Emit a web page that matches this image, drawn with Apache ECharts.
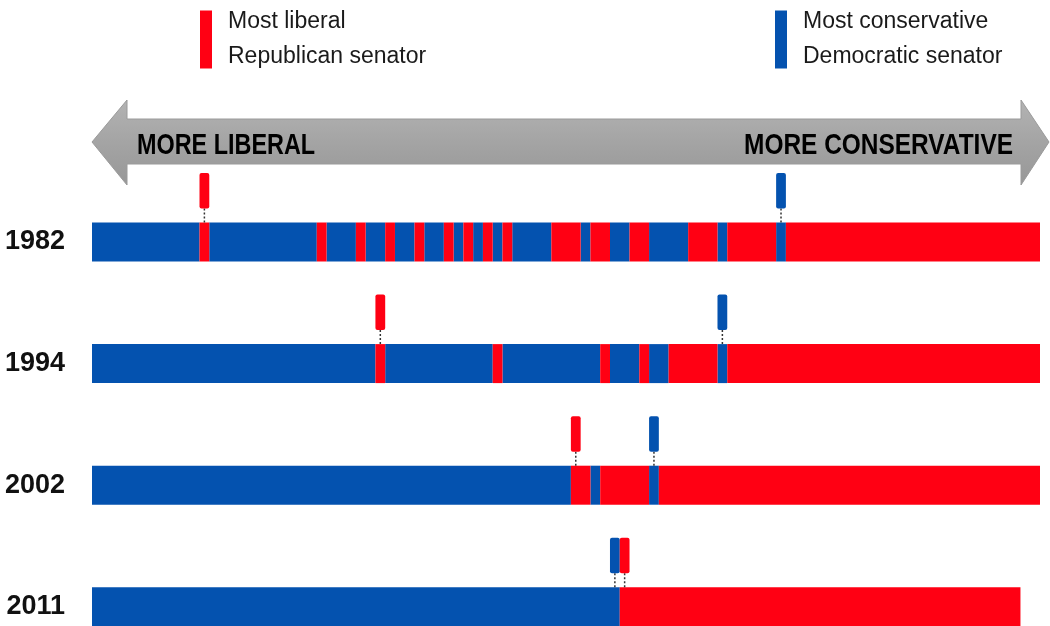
<!DOCTYPE html>
<html><head><meta charset="utf-8">
<script src="https://cdn.jsdelivr.net/npm/echarts@6/dist/echarts.min.js"></script>
<style>html,body{margin:0;padding:0;background:#fff}#c{width:1050px;height:626px}</style>
</head><body><div id="c"></div>
<script>
// Years (rows), top to bottom
const years = ['1982', '1994', '2002', '2011'];
// Senators ordered from most liberal to most conservative, as alternating run lengths.
// The first run of each row is Democratic (blue), then Republican (red), and so on.
const runs1982 = [11,1,11,1,3,1,2,1,2,1,2,1,1,1,1,1,1,1,4,3,1,2,2,2,4,3,1,5,1,26];
const runs1994 = [29,1,11,1,10,1,3,1,2,5,1,32];
const runs2002 = [49,2,1,5,1,39];
const runs2011 = [54,41];
// Position (rank) of highlighted senators in each year
const mostLiberalRepublican = [11, 29, 49, 54];
const mostConservativeDemocrat = [70, 64, 57, 53];
const rankMax = 97;
const directionLabels = ['MORE LIBERAL', 'MORE CONSERVATIVE'];
const legendNames = ['Most liberal\nRepublican senator', 'Most conservative\nDemocratic senator'];
const partyNames = ['Democrats', 'Republicans'];

const BLUE = '#0452AF', RED = '#FF0013';
const BOLDFONT = '"Liberation Sans", Arial, sans-serif';

const allRuns = [runs1982, runs1994, runs2002, runs2011];
const demSegs = [], repSegs = [];
allRuns.forEach((runs, yi) => {
  let pos = 0;
  runs.forEach((n, k) => {
    (k % 2 === 0 ? demSegs : repSegs).push([pos, yi, pos + n]);
    pos += n;
  });
});
const libRepData = mostLiberalRepublican.map((r, yi) => [r, yi]);
const consDemData = mostConservativeDemocrat.map((r, yi) => [r, yi]);

const BAR_H = 39;
function renderSeg(params, api) {
  const s = api.coord([api.value(0), api.value(1)]);
  const e = api.coord([api.value(2), api.value(1)]);
  return {
    type: 'rect',
    shape: { x: s[0], y: s[1] - BAR_H / 2, width: e[0] - s[0], height: BAR_H },
    style: { fill: api.visual('color') }
  };
}
function renderMarker(params, api) {
  const a = api.coord([api.value(0), api.value(1)]);
  const b = api.coord([api.value(0) + 1, api.value(1)]);
  const w = b[0] - a[0], cx = (a[0] + b[0]) / 2;
  const top = a[1] - 69, bottom = a[1] - 33.5, barTop = a[1] - BAR_H / 2;
  return {
    type: 'group',
    children: [
      { type: 'line', shape: { x1: cx, y1: bottom, x2: cx, y2: barTop + 1 },
        style: { stroke: '#333', lineWidth: 1.5, lineDash: [2, 2] } },
      { type: 'rect', shape: { x: a[0], y: top, width: w, height: bottom - top, r: 2 },
        style: { fill: api.visual('color') } }
    ]
  };
}

const chart = echarts.init(document.getElementById('c'), null, { renderer: 'canvas' });
const legendCommon = {
  top: 3, padding: 0, itemWidth: 12, itemHeight: 58, icon: 'rect', selectedMode: false,
  textStyle: { fontSize: 23, lineHeight: 35, color: '#1a1a1a', fontFamily: '"Liberation Sans", Arial, sans-serif', padding: [3, 0, 0, 11] }
};
chart.setOption({
  animation: false,
  backgroundColor: '#fff',
  grid: { left: 92, right: 10, top: 181.2, height: 486.4, containLabel: false, outerBoundsMode: 'none' },
  xAxis: { type: 'value', min: 0, max: rankMax, show: false },
  yAxis: {
    type: 'category', data: years, inverse: true,
    axisLine: { show: false }, axisTick: { show: false }, splitLine: { show: false },
    axisLabel: { margin: 27, fontSize: 27, fontWeight: 'bold', color: '#111', fontFamily: BOLDFONT }
  },
  legend: [
    Object.assign({ data: [legendNames[0]], left: 200 }, legendCommon),
    Object.assign({ data: [legendNames[1]], left: 775 }, legendCommon)
  ],
  graphic: [
    {
      type: 'polygon', z: 0,
      shape: { points: [[92,142],[127,100],[127,119],[1021,119],[1021,100],[1049,142],[1021,185],[1021,164],[127,164],[127,185]] },
      style: {
        fill: new echarts.graphic.LinearGradient(0, 0, 0, 1, [
          { offset: 0, color: '#b3b3b3' }, { offset: 0.5, color: '#a4a4a4' }, { offset: 1, color: '#979797' }
        ]),
        stroke: '#9a9a9a', lineWidth: 1
      }
    },
    { type: 'text', x: 137, y: 146, scaleX: 0.78, z: 1,
      style: { text: directionLabels[0], x: 0, y: 0, verticalAlign: 'middle', align: 'left',
               fontSize: 30, fontWeight: 'bold', fill: '#000', fontFamily: BOLDFONT } },
    { type: 'text', x: 1013, y: 146, scaleX: 0.815, z: 1,
      style: { text: directionLabels[1], x: 0, y: 0, verticalAlign: 'middle', align: 'right',
               fontSize: 30, fontWeight: 'bold', fill: '#000', fontFamily: BOLDFONT } }
  ],
  series: [
    { name: partyNames[0], type: 'custom', renderItem: renderSeg, data: demSegs,
      encode: { x: [0, 2], y: 1 }, itemStyle: { color: BLUE }, z: 2 },
    { name: partyNames[1], type: 'custom', renderItem: renderSeg, data: repSegs,
      encode: { x: [0, 2], y: 1 }, itemStyle: { color: RED }, z: 2 },
    { name: legendNames[1], type: 'custom', renderItem: renderMarker, data: consDemData,
      encode: { x: 0, y: 1 }, itemStyle: { color: BLUE }, z: 3 },
    { name: legendNames[0], type: 'custom', renderItem: renderMarker, data: libRepData,
      encode: { x: 0, y: 1 }, itemStyle: { color: RED }, z: 3 }
  ]
});
</script></body></html>
